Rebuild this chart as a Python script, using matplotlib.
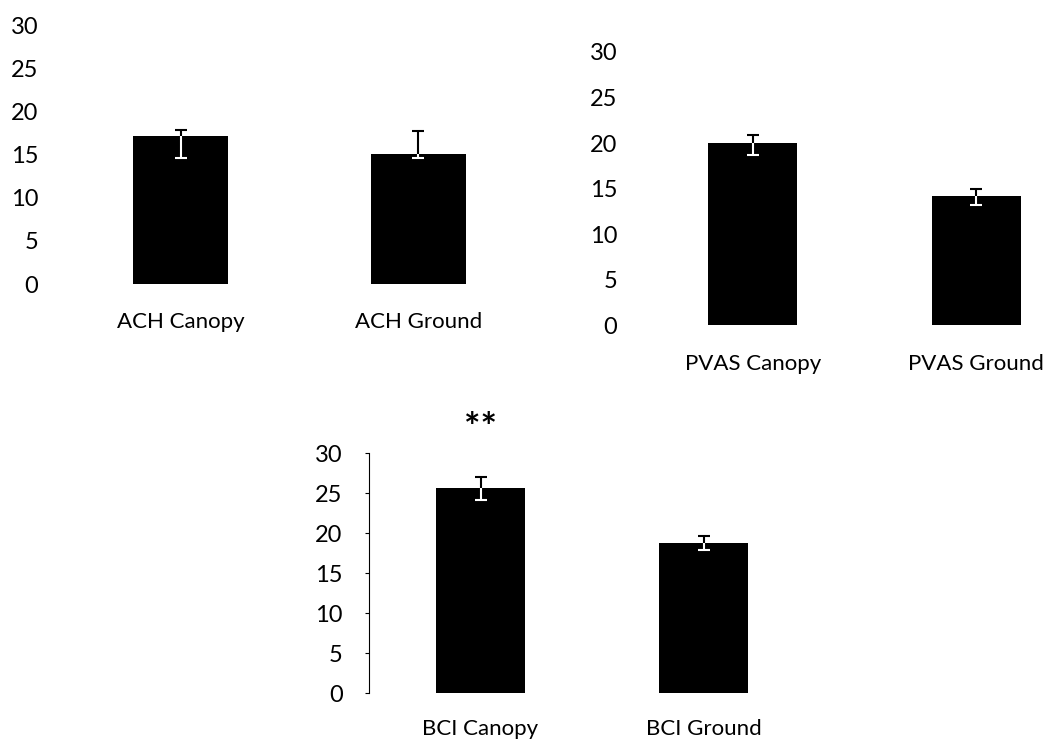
import matplotlib.pyplot as plt
import numpy as np

plt.rcParams['font.family'] = ['Lato', 'DejaVu Sans']
plt.rcParams['font.size'] = 16

ach_labels = ['ACH Canopy', 'ACH Ground']
ach_means = [17.2, 15.1]
ach_err_low = [2.6, 0.5]
ach_err_high = [0.6, 2.6]

pvas_labels = ['PVAS Canopy', 'PVAS Ground']
pvas_means = [20.0, 14.2]
pvas_err_low = [1.3, 1.0]
pvas_err_high = [0.9, 0.8]

bci_labels = ['BCI Canopy', 'BCI Ground']
bci_means = [25.6, 18.7]
bci_err_low = [1.5, 0.8]
bci_err_high = [1.4, 0.9]

yticks = [0, 5, 10, 15, 20, 25, 30]

W, H = 1048, 740
fig = plt.figure(figsize=(W / 100, H / 100), dpi=100)


def px_axes(left, top, right, bottom):
    return fig.add_axes([left / W, 1 - bottom / H, (right - left) / W, (bottom - top) / H])


def draw_panel(ax, labels, means, err_low, err_high, left_spine=False, xpad=20):
    x = np.arange(len(labels))
    bars = ax.bar(x, means, 0.40, color='black', zorder=2)
    yerr = [err_low, err_high]
    ax.errorbar(x, means, yerr=yerr, fmt='none', ecolor='black',
                elinewidth=1.5, capsize=4, capthick=1.5, zorder=3)
    # inside the black bar the error bar shows up white
    for i, b in enumerate(bars):
        eb = ax.errorbar([x[i]], [means[i]], yerr=[[err_low[i]], [err_high[i]]],
                         fmt='none', ecolor='white', elinewidth=1.5,
                         capsize=4, capthick=1.5, zorder=4)
        for art in list(eb[1]) + list(eb[2]):
            art.set_clip_path(b)
    ax.set_xlim(-0.5, 1.5)
    ax.set_ylim(0, 30)
    ax.set_yticks(yticks)
    ax.set_xticks(x)
    ax.set_xticklabels(labels)
    for s in ['top', 'right', 'bottom']:
        ax.spines[s].set_visible(False)
    ax.tick_params(axis='x', length=0, pad=xpad)
    ax.tick_params(axis='y', labelsize=17)
    if left_spine:
        ax.spines['left'].set_linewidth(0.8)
        ax.tick_params(axis='y', length=3, width=0.8, pad=16)
    else:
        ax.spines['left'].set_visible(False)
        ax.tick_params(axis='y', length=0, pad=17)
    return bars


ax1 = px_axes(62, 25, 537, 284)
draw_panel(ax1, ach_labels, ach_means, ach_err_low, ach_err_high, xpad=20)

ax2 = px_axes(641, 52, 1088, 325)
draw_panel(ax2, pvas_labels, pvas_means, pvas_err_low, pvas_err_high, xpad=21)

ax3 = px_axes(369, 453, 815, 693)
draw_panel(ax3, bci_labels, bci_means, bci_err_low, bci_err_high,
           left_spine=True, xpad=19)
ax3.text(0, 1.03, '**', transform=ax3.get_xaxis_transform(), ha='center',
         va='bottom', fontsize=28, fontweight='bold')

fig.savefig('out.png', dpi=100)
